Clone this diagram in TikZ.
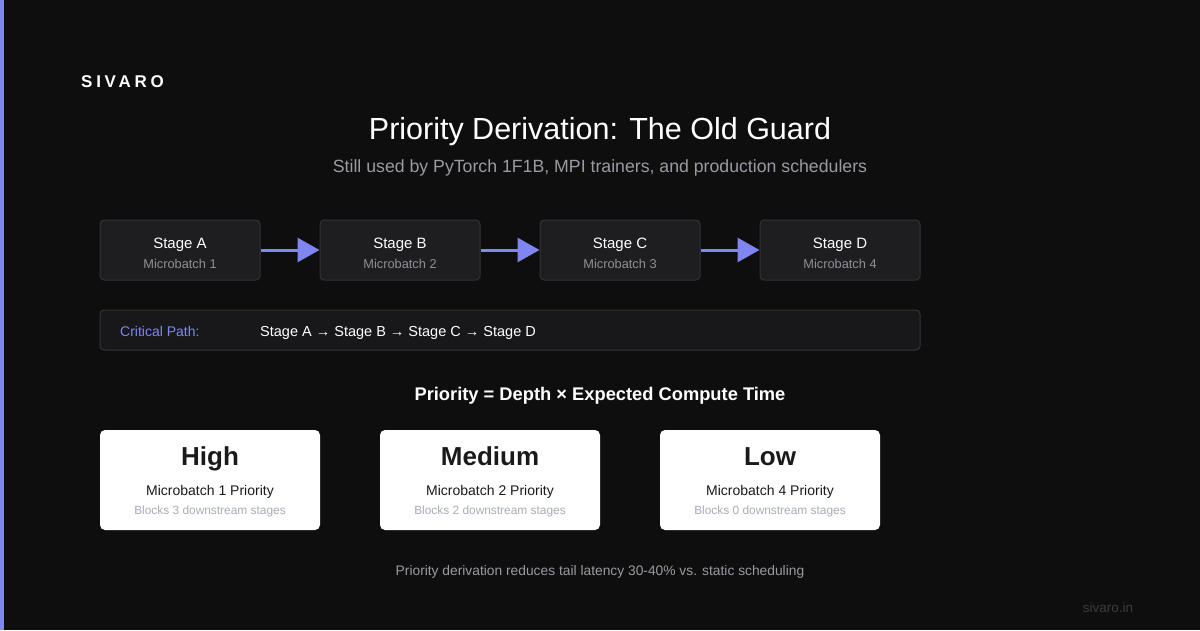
\documentclass[tikz,border=0pt]{standalone}
\usepackage{fontspec}
\setmainfont{Liberation Sans}
\newfontfamily\logofont[LetterSpace=22]{Liberation Sans}
\usetikzlibrary{arrows.meta}
\definecolor{bg}{HTML}{0E0E0F}
\definecolor{accent}{HTML}{7F86F2}
\definecolor{stagefill}{HTML}{1E1E21}
\definecolor{stageline}{HTML}{333338}
\definecolor{pathfill}{HTML}{18181B}
\definecolor{subgray}{HTML}{9A9AA2}
\definecolor{mbgray}{HTML}{8E8E96}
\definecolor{cardtext}{HTML}{1A1A1C}
\definecolor{cardgray}{HTML}{A8ACB8}
\definecolor{footgray}{HTML}{9A9AA2}
\definecolor{sitegray}{HTML}{3C3C40}
\tikzset{
  stagebox/.style={draw=stageline, line width=1pt, fill=stagefill, rounded corners=4pt, minimum width=160pt, minimum height=60pt, inner sep=0pt},
  card/.style={fill=white, rounded corners=5pt, minimum width=220pt, minimum height=100pt, inner sep=0pt},
  flowarrow/.style={draw=accent, line width=3pt, -{Triangle[length=22pt,width=24pt]}},
  txt/.style={anchor=base, inner sep=0pt},
  stagetitle/.style={txt, text=white, font=\fontsize{15}{18}\selectfont},
  stagesub/.style={txt, text=mbgray, font=\fontsize{12.8}{14}\selectfont},
  cardbig/.style={txt, text=cardtext, font=\fontsize{26}{30}\selectfont\bfseries},
  cardmid/.style={txt, text=cardtext, font=\fontsize{14}{16}\selectfont},
  cardsmall/.style={txt, text=cardgray, font=\fontsize{11.9}{13}\selectfont},
}
\begin{document}
\begin{tikzpicture}[x=1pt, y=-1pt]
\fill[bg] (0,0) rectangle (1200,630);
\useasboundingbox (0,0) rectangle (1200,630);
\fill[accent] (0,0) rectangle (4,630);

\node[txt, anchor=base west, text=white, font=\logofont\fontsize{17}{20}\selectfont\bfseries] (logo) at (81,87) {SIVARO};

\node[txt, text=white, font=\fontsize{30.5}{36}\selectfont] (title) at (600,139) {Priority Derivation: The Old Guard};
\node[txt, text=subgray, font=\fontsize{17.7}{20}\selectfont] (subtitle) at (600,172) {Still used by PyTorch 1F1B, MPI trainers, and production schedulers};

\node[stagebox] (sa) at (180,250) {};
\node[stagebox] (sb) at (400,250) {};
\node[stagebox] (sc) at (620,250) {};
\node[stagebox] (sd) at (840,250) {};
\foreach \n/\l/\m in {sa/A/1, sb/B/2, sc/C/3, sd/D/4}{
  \node[stagetitle] (\n t) at ([yshift=1.5pt]\n.center) {Stage \l};
  \node[stagesub] (\n s) at ([yshift=-18.5pt]\n.center) {Microbatch \m};
}
\draw[flowarrow] (sa.east) -- (sb.west);
\draw[flowarrow] (sb.east) -- (sc.west);
\draw[flowarrow] (sc.east) -- (sd.west);

\node[draw=stageline, line width=1pt, fill=pathfill, rounded corners=4pt, minimum width=820pt, minimum height=40pt, inner sep=0pt] (path) at (510,330) {};
\node[txt, anchor=base west, text=accent, font=\fontsize{14}{16}\selectfont] (pathlabel) at (120,336) {Critical Path:};
\node[txt, anchor=base west, text=white, font=\fontsize{14.5}{16}\selectfont] (pathtext) at (260,336) {Stage A → Stage B → Stage C → Stage D};

\node[txt, text=white, font=\fontsize{18.3}{22}\selectfont\bfseries] (formula) at (600,400) {Priority = Depth × Expected Compute Time};

\node[card] (high) at (210,480) {};
\node[card] (med) at (490,480) {};
\node[card] (low) at (770,480) {};
\foreach \n/\b/\m/\k in {high/High/1/3, med/Medium/2/2, low/Low/4/0}{
  \node[cardbig] (\n b) at ([yshift=15pt]\n.center) {\b};
  \node[cardmid] (\n m) at ([yshift=-15pt]\n.center) {Microbatch \m{} Priority};
  \node[cardsmall] (\n k) at ([yshift=-34.5pt]\n.center) {Blocks \k{} downstream stages};
}

\node[txt, text=footgray, font=\fontsize{13.8}{16}\selectfont] (foot) at (600,575) {Priority derivation reduces tail latency 30-40\% vs. static scheduling};
\node[txt, text=sitegray, font=\fontsize{13.5}{16}\selectfont] (site) at (1108,612) {sivaro.in};
\end{tikzpicture}
\end{document}
